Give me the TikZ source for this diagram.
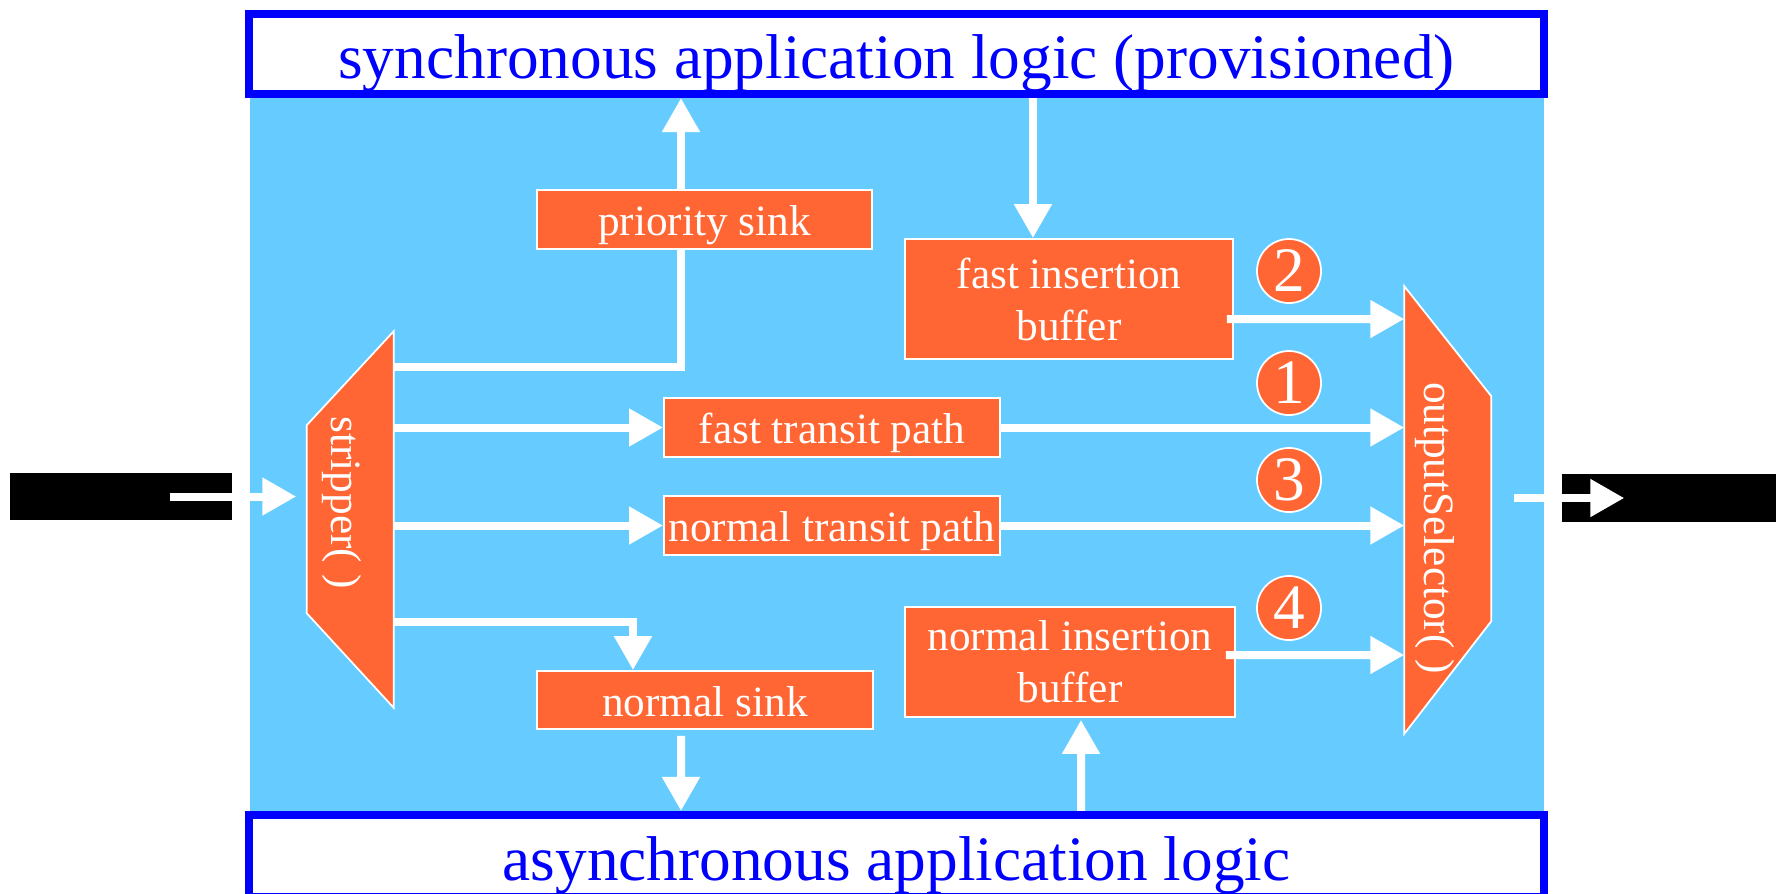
\documentclass[tikz,border=0pt]{standalone}
\usepackage{fontspec}
\setmainfont{Liberation Serif}
\usetikzlibrary{arrows.meta}
\definecolor{bgblue}{HTML}{66CCFF}
\definecolor{blkorange}{HTML}{FF6633}
\definecolor{logicblue}{HTML}{0000FF}
\tikzset{
  blk/.style={rectangle, draw=white, fill=blkorange, line width=0.5pt, text=white, align=center,
              font=\fontsize{12.3}{14.8}\selectfont, inner sep=0pt},
  blkline/.style={blk, text height=0.36cm, text depth=0.04cm},
  logic/.style={rectangle, draw=logicblue, fill=white, line width=0.08cm, text=logicblue,
                font=\fontsize{18}{22}\selectfont, inner sep=0pt, minimum width=12.95cm,
                text height=0.52cm, text depth=0.04cm},
  flow/.style={draw=white, line width=0.08cm},
  arr/.style={flow, -{Triangle[length=0.34cm, width=0.36cm]}},
  num/.style={circle, draw=white, fill=blkorange, line width=0.5pt, text=white, inner sep=0pt,
              minimum size=0.64cm, font=\fontsize{18}{22}\selectfont},
  muxtext/.style={text=white, rotate=-90, font=\fontsize{12.3}{14.8}\selectfont, inner sep=0pt},
  bar/.style={fill=black, inner sep=0pt},
}

\begin{document}
\begin{tikzpicture}[x=0.01cm, y=-0.01cm,
  mux/.style={rectangle, inner sep=0pt, minimum width=0.87cm},
  muxshape/.style={draw=white, fill=blkorange, line width=0.5pt}]
  \useasboundingbox (0,0) rectangle (1776,893);
  \fill[bgblue] (250,94) rectangle (1544,815);
  \node[logic, minimum height=0.8cm] (sync) at (896.5,54) {synchronous application logic (provisioned)};
  \node[logic, minimum height=0.82cm] (async) at (896.5,856) {asynchronous application logic};
  \node[bar, minimum width=2.22cm, minimum height=0.47cm] (inbar) at (121,496.5) {};
  \node[bar, minimum width=2.14cm, minimum height=0.48cm] (outbar) at (1669,498) {};
  % stripper and output selector
  \node[mux, minimum height=3.75cm] (strip) at (349.5,519.5) {};
  \draw[muxshape] (strip.north east) -- ++(-87,94) -- ++(0,188) -- (strip.south east) -- cycle;
  \node[muxtext] (striplbl) at ([shift={(-8,-17)}]strip.center) {stripper( )};
  \node[mux, minimum height=4.46cm] (sel) at (1448.5,510) {};
  \draw[muxshape] (sel.north west) -- ++(87,110) -- ++(0,225) -- (sel.south west) -- cycle;
  \node[muxtext] (sellbl) at ([shift={(-14,18)}]sel.center) {outputSelector( )};
  % paths
  \node[blkline, minimum width=3.35cm, minimum height=0.59cm] (psink) at (704.5,219.5) {priority sink};
  \node[blkline, minimum width=3.36cm, minimum height=0.58cm] (nsink) at (705,700) {normal sink};
  \node[blkline, minimum width=3.36cm, minimum height=0.59cm] (ftp) at (832,427.5) {fast transit path};
  \node[blkline, minimum width=3.36cm, minimum height=0.59cm] (ntp) at (832,525.5) {normal transit path};
  \node[blk, minimum width=3.28cm, minimum height=1.2cm] (fib) at (1069,299) {fast insertion\\buffer};
  \node[blk, minimum width=3.30cm, minimum height=1.1cm] (nib) at (1070,662) {normal insertion\\buffer};
  \node[num] (n2) at (1289,271) {2};
  \node[num] (n1) at (1289,383) {1};
  \node[num] (n3) at (1289,480) {3};
  \node[num] (n4) at (1289,608) {4};

  \draw[arr] ([xshift=-0.63cm]inbar.east) -- ([xshift=-0.09cm]inbar.east -| strip.west);
  \draw[arr] ([xshift=0.21cm]sel.east |- outbar.west) -- ([xshift=0.63cm]outbar.west);
  \draw[flow] ([yshift=1.525cm]strip.east) -| ([xshift=-0.235cm]psink.south);
  \draw[arr] (strip.east |- ftp.west) -- (ftp.west);
  \draw[arr] (strip.east |- ntp.west) -- (ntp.west);
  \draw[arr] ([yshift=-1.025cm]strip.east) -| ([xshift=-0.72cm]nsink.north);
  \draw[arr] ([xshift=-0.235cm]psink.north) -- ([xshift=-0.235cm]psink.north |- sync.south);
  \draw[arr] ([shift={(-24,6)}]nsink.south) -- ([xshift=-0.24cm]nsink.south |- async.north);
  \draw[arr] ([xshift=-0.36cm]fib.north |- sync.south) -- ([xshift=-0.36cm]fib.north);
  \draw[arr] ([xshift=0.11cm]nib.south |- async.north) -- ([shift={(11,2)}]nib.south);
  \draw[arr] ([shift={(-7,20)}]fib.east) -- ([yshift=-0.2cm]fib.east -| sel.west);
  \draw[arr] (ftp.east) -- (ftp.east -| sel.west);
  \draw[arr] (ntp.east) -- (ntp.east -| sel.west);
  \draw[arr] ([shift={(-10,-7)}]nib.east) -- ([yshift=0.07cm]nib.east -| sel.west);
\end{tikzpicture}
\end{document}
